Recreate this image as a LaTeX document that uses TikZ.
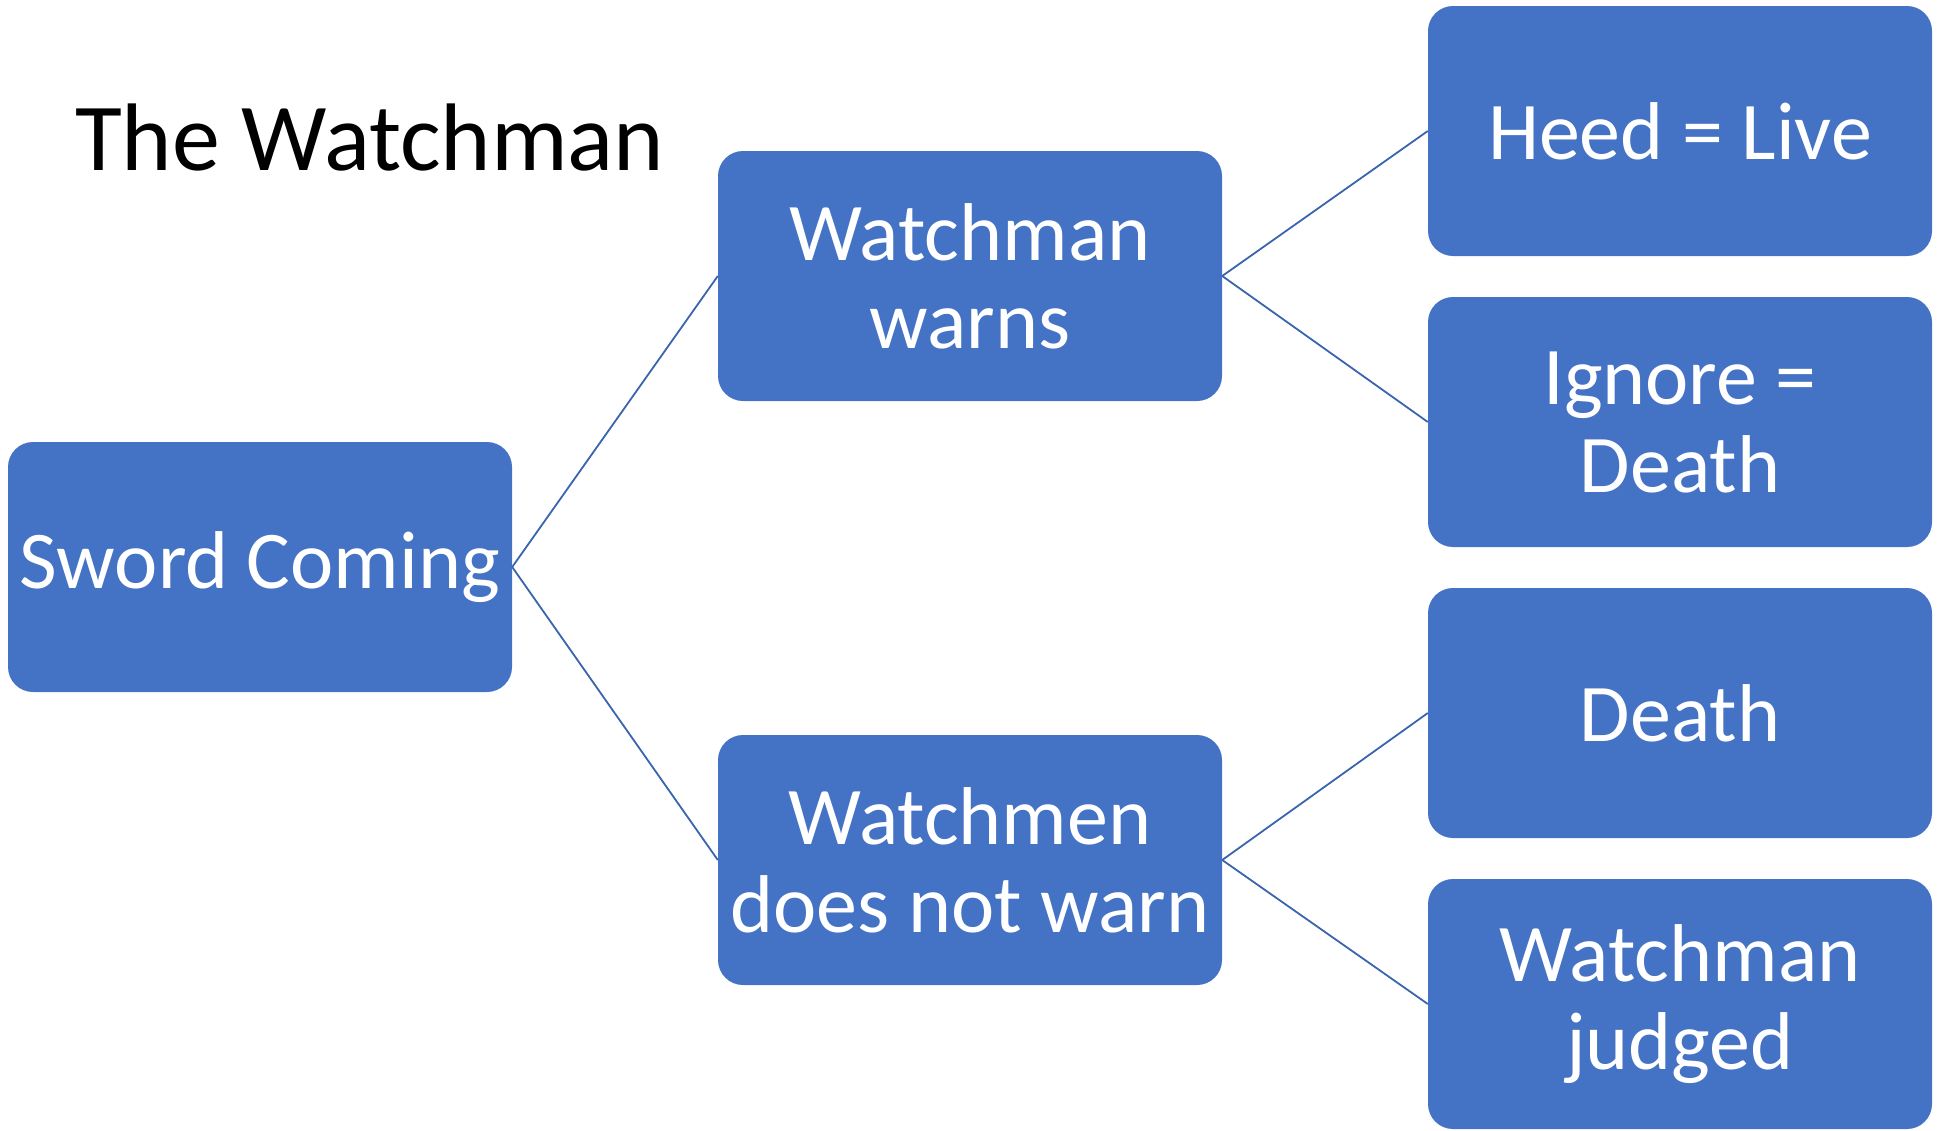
\documentclass[tikz,border=0pt]{standalone}
\usepackage{fontspec}
\setmainfont{Carlito}
\definecolor{boxblue}{HTML}{4472C4}
\definecolor{lineblue}{HTML}{3A64AD}
\begin{document}
\begin{tikzpicture}[x=1pt,y=-1pt,
  box/.style={rectangle, rounded corners=25pt, fill=boxblue, text=white,
    minimum width=504pt, minimum height=250pt, inner sep=0pt, align=center,
    font=\fontsize{82}{88}\selectfont},
  link/.style={draw=lineblue, line width=1.8pt}]
\useasboundingbox (0,0) rectangle (1942,1130);
\node[anchor=base west, inner sep=0pt, font=\fontsize{96}{104}\selectfont] (title) at (75,170) {The Watchman};
\node[box] (sword) at (260,567) {Sword Coming};
\node[box] (warns) at (970,276) {Watchman\\warns};
\node[box] (notwarn) at (970,860) {Watchmen\\does not warn};
\node[box] (heed) at (1680,131) {Heed = Live};
\node[box] (ignore) at (1680,422) {Ignore =\\Death};
\node[box] (death) at (1680,713) {Death};
\node[box] (judged) at (1680,1004) {Watchman\\judged};
\draw[link] (sword.east) -- (warns.west);
\draw[link] (sword.east) -- (notwarn.west);
\draw[link] (warns.east) -- (heed.west);
\draw[link] (warns.east) -- (ignore.west);
\draw[link] (notwarn.east) -- (death.west);
\draw[link] (notwarn.east) -- (judged.west);
\end{tikzpicture}
\end{document}
